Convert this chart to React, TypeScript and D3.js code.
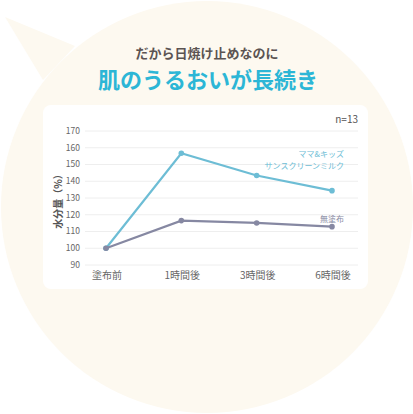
import { useEffect, useRef } from 'react'
import * as d3 from 'd3'

const categories = ['塗布前', '1時間後', '3時間後', '6時間後']
const sunscreenValues = [100, 156.7, 143.4, 134.4]
const untreatedValues = [100, 116.5, 115.1, 112.9]
const yTicks = [90, 100, 110, 120, 130, 140, 150, 160, 170]

const FONT = '"Noto Sans CJK JP", "Noto Sans", sans-serif'
const BLUE = '#6dbdd5'
const GRAY = '#8688a2'

export default function App() {
  const svgRef = useRef<SVGSVGElement>(null)

  useEffect(() => {
    if (!svgRef.current) return
    const svg = d3.select(svgRef.current)
    svg.selectAll('*').remove()

    // speech bubble background
    svg.append('path')
      .attr('d', 'M5,17 L75,46 L43,80 Z')
      .attr('fill', '#fdf9f0')
    svg.append('circle')
      .attr('cx', 207)
      .attr('cy', 207)
      .attr('r', 206)
      .attr('fill', '#fdf9f0')

    // titles
    svg.append('text')
      .attr('x', 207)
      .attr('y', 58)
      .attr('text-anchor', 'middle')
      .style('font-family', FONT)
      .style('font-size', '13px')
      .style('font-weight', 'bold')
      .style('fill', '#5b5352')
      .text('だから日焼け止めなのに')

    svg.append('text')
      .attr('x', 208)
      .attr('y', 88)
      .attr('text-anchor', 'middle')
      .style('font-family', FONT)
      .style('font-size', '22px')
      .style('font-weight', 'bold')
      .style('fill', '#2cb6d6')
      .text('肌のうるおいが長続き')

    // white panel
    svg.append('rect')
      .attr('x', 43)
      .attr('y', 105)
      .attr('width', 325)
      .attr('height', 184)
      .attr('rx', 8)
      .attr('fill', '#ffffff')

    const x = d3.scalePoint<string>().domain(categories).range([106, 332])
    const y = d3.scaleLinear().domain([90, 170]).range([265, 131])

    // grid + tick labels
    const grid = svg.append('g')
    yTicks.forEach(t => {
      grid.append('line')
        .attr('x1', 85)
        .attr('x2', 358)
        .attr('y1', y(t))
        .attr('y2', y(t))
        .attr('stroke', '#eeeeee')
        .attr('stroke-width', 1)
      grid.append('text')
        .attr('x', 80)
        .attr('y', y(t))
        .attr('dy', '0.35em')
        .attr('text-anchor', 'end')
        .style('font-family', FONT)
        .style('font-size', '8.5px')
        .style('fill', '#666')
        .text(t)
    })

    // x labels
    categories.forEach(c => {
      svg.append('text')
        .attr('x', (x(c) as number) + 1)
        .attr('y', 279)
        .attr('text-anchor', 'middle')
        .style('font-family', FONT)
        .style('font-size', '10px')
        .style('fill', '#666')
        .text(c)
    })

    // y axis title
    svg.append('text')
      .attr('transform', 'translate(58,199) rotate(-90)')
      .attr('text-anchor', 'middle')
      .attr('dy', '0.35em')
      .style('font-family', FONT)
      .style('font-size', '10px')
      .style('font-weight', 'bold')
      .style('fill', '#555')
      .text('水分量（%）')

    svg.append('text')
      .attr('x', 358)
      .attr('y', 123)
      .attr('text-anchor', 'end')
      .style('font-family', FONT)
      .style('font-size', '10px')
      .style('fill', '#555')
      .text('n=13')

    const line = d3.line<number>()
      .x((_, i) => x(categories[i]) as number)
      .y(d => y(d))

    const drawSeries = (vals: number[], color: string) => {
      svg.append('path')
        .datum(vals)
        .attr('fill', 'none')
        .attr('stroke', color)
        .attr('stroke-width', 2.2)
        .attr('d', line)
      svg.append('g')
        .selectAll('circle')
        .data(vals)
        .enter().append('circle')
        .attr('cx', (_, i) => x(categories[i]) as number)
        .attr('cy', d => y(d))
        .attr('r', 2.8)
        .attr('fill', color)
    }

    drawSeries(sunscreenValues, BLUE)
    drawSeries(untreatedValues, GRAY)

    // series labels
    const lbl = (text: string, yy: number, color: string) =>
      svg.append('text')
        .attr('x', 344)
        .attr('y', yy)
        .attr('text-anchor', 'end')
        .style('font-family', FONT)
        .style('font-size', '8px')
        .style('fill', color)
        .text(text)
    lbl('ママ&キッズ', 157, BLUE)
    lbl('サンスクリーンミルク', 168.5, BLUE)
    lbl('無塗布', 222, GRAY)
  }, [])

  return (
    <svg
      ref={svgRef}
      width={413}
      height={414}
      style={{ position: 'fixed', left: 0, top: 0, background: '#ffffff' }}
    />
  )
}
